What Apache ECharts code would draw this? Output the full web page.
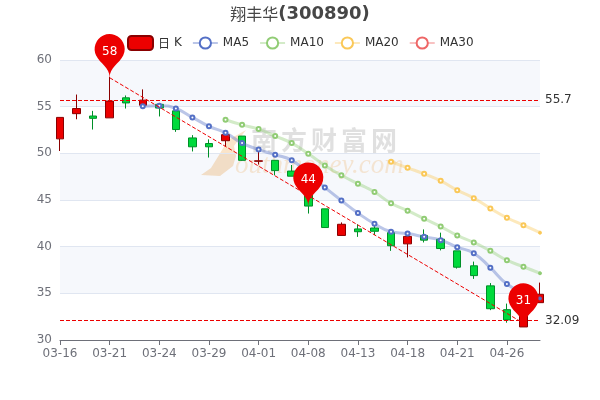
<!DOCTYPE html>
<html><head><meta charset="utf-8">
<script src="https://cdn.jsdelivr.net/npm/echarts@6/dist/echarts.min.js"></script>
<style>html,body{margin:0;padding:0;background:#fff}#c{width:600px;height:400px}</style>
</head><body><div id="c"></div>
<script>
const categories=['03-16','03-17','03-18','03-21','03-22','03-23','03-24','03-25','03-28','03-29','03-30','03-31','04-01','04-06','04-07','04-08','04-11','04-12','04-13','04-14','04-15','04-18','04-19','04-20','04-21','04-22','04-25','04-26','04-27','04-28'];
// open, close, low, high
const kline=[
[51.55,53.85,50.25,53.85],[54.25,54.8,53.65,56.3],[54.0,53.75,52.55,54.55],[53.8,55.6,53.8,58.2],[55.95,55.4,54.8,56.2],
[55.15,55.7,55.15,56.85],[55.25,54.85,53.95,55.4],[54.55,52.55,52.3,54.8],[51.65,50.7,50.2,51.95],[51.05,50.7,49.55,51.5],
[51.35,52.0,50.7,52.0],[51.85,49.25,49.2,51.85],[49.15,49.2,48.8,50.65],[49.25,48.15,47.65,49.25],[48.1,47.55,47.55,48.75],
[46.0,44.35,43.55,46.0],[44.05,42.05,42.0,44.05],[41.2,42.4,41.2,42.6],[41.9,41.6,41.05,42.4],[42.0,41.65,41.25,42.25],
[41.5,40.1,39.55,41.5],[40.3,41.1,38.85,41.1],[41.2,40.7,40.45,41.85],[40.8,39.8,39.6,41.5],[39.55,37.8,37.65,39.55],
[37.95,36.9,36.55,38.4],[35.8,33.35,33.2,36.1],[33.25,32.15,31.85,33.9],[31.4,32.65,31.4,32.65],[34.0,34.9,34.0,36.15]];
const ma5=[null,null,null,null,null,55.05,55.1,54.8,53.85,52.9,52.2,51.1,50.4,49.85,49.25,47.85,46.35,44.95,43.6,42.45,41.6,41.4,41.05,40.7,39.95,39.3,37.75,36.0,35.05,34.45];
const ma10=[null,null,null,null,null,null,null,null,null,null,53.6,53.05,52.6,51.85,51.1,49.95,48.7,47.65,46.75,45.85,44.65,43.85,43.0,42.15,41.2,40.45,39.55,38.55,37.85,37.15];
const ma20=[null,null,null,null,null,null,null,null,null,null,null,null,null,null,null,null,null,null,null,null,49.1,48.45,47.8,47.05,46.05,45.2,44.1,43.1,42.3,41.5];
const ma30=[];
const seriesNames=['日K','MA5','MA10','MA20','MA30'];
const yTicks={min:30,max:60,interval:5};
const peak={date:'03-21',value:58.1,label:'58'};
const mid={date:'04-08',value:44.35,label:'44'};
const low={date:'04-27',value:31.4,label:'31'};
const trendStart=['03-21',58.1];
const trendEnd=['04-27',31.8];
const levelHigh=55.7;
const levelLow=32.09;
const watermarkChars=['南','方','财','富','网'];

const chart=echarts.init(document.getElementById('c'));
const maSeries=(name,data,color)=>({name,type:'line',
  data:data.map((v,i)=>i===data.length-1?{value:v,symbolSize:3,itemStyle:{color,borderWidth:1}}:v),
  smooth:true,symbol:'circle',symbolSize:4,showSymbol:true,
  itemStyle:{color:'#fff',borderColor:color,borderWidth:2},lineStyle:{color,width:3,opacity:.4},
  emphasis:{disabled:true},z:3});
chart.setOption({
  animation:false,
  textStyle:{fontFamily:'DejaVu Sans'},
  title:{text:'{a|翔丰华}{b|(300890)}',left:'center',top:0,textStyle:{rich:{
    a:{fontSize:16,fontWeight:'normal',color:'#464646',fontFamily:'Noto Sans CJK SC'},
    b:{fontSize:18,fontWeight:'bold',color:'#464646',fontFamily:'DejaVu Sans'}}}},
  legend:{top:30,left:122,itemGap:10,data:seriesNames,
    formatter:n=>n==='日K'?'{a|日}{b|K}':n,
    textStyle:{color:'#333',fontSize:12,rich:{
      a:{fontSize:12,color:'#333',fontFamily:'Noto Sans CJK SC',padding:[0,4,0,0]},
      b:{fontSize:12,color:'#333',fontFamily:'DejaVu Sans'}}}},
  grid:{left:60,right:60,top:60,bottom:60},
  xAxis:{type:'category',data:categories,boundaryGap:false,
    axisLine:{lineStyle:{color:'#6E7079'}},axisTick:{show:true,interval:2,alignWithLabel:true,lineStyle:{color:'#6E7079'}},
    axisLabel:{interval:2,color:'#6E7079',fontSize:12},splitLine:{show:false}},
  yAxis:{type:'value',min:yTicks.min,max:yTicks.max,interval:yTicks.interval,
    axisLine:{show:false},axisTick:{show:false},axisLabel:{color:'#6E7079',fontSize:12},
    splitLine:{show:true,lineStyle:{color:'#E0E6F1'}},
    splitArea:{show:true,areaStyle:{color:['rgba(255,255,255,.2)','rgba(210,219,238,.2)']}}},
  graphic:[
    ...watermarkChars.map((ch,i)=>({type:'text',left:251+i*30,top:127,z:0,silent:true,style:{text:ch,fill:'rgba(185,185,185,.55)',font:'bold 26px "Noto Sans CJK SC"'}})),
    {type:'text',left:235,top:152,z:0,silent:true,style:{text:'outhmoney.com',fill:'rgba(250,210,160,.55)',font:'italic 27px "Liberation Serif"'}},
    {type:'polygon',z:0,silent:true,shape:{points:[[246,130],[228,140],[219,155],[211,168],[201,175],[220,176],[233,166],[236,156],[234,146]]},style:{fill:'rgba(248,215,175,.85)'}}
  ],
  series:[
    {name:'日K',type:'candlestick',data:kline,barWidth:8,clip:false,
     itemStyle:{color:'#ec0000',color0:'#00da3c',borderColor:'#8A0000',borderColor0:'#008F28'},
     markPoint:{symbol:'pin',symbolSize:50,itemStyle:{color:'#ec0000'},label:{color:'#fff',fontSize:12},
       data:[peak,mid,low].map(p=>({coord:[p.date,p.value],value:p.label}))},
     markLine:{symbol:'none',silent:true,animation:false,
       data:[
        {yAxis:levelHigh,lineStyle:{color:'#ec0000',type:'dashed',width:1},label:{position:'end',formatter:String(levelHigh),color:'#333',fontSize:12}},
        {yAxis:levelLow,lineStyle:{color:'#ec0000',type:'dashed',width:1},label:{position:'end',formatter:String(levelLow),color:'#333',fontSize:12}},
        [{coord:trendStart,lineStyle:{color:'#ec0000',type:'dashed',width:1},label:{show:false}},{coord:trendEnd}]
       ]}},
    maSeries('MA5',ma5,'#5470c6'),
    maSeries('MA10',ma10,'#91cc75'),
    maSeries('MA20',ma20,'#fac858'),
    maSeries('MA30',ma30,'#ee6666')
  ]
});
</script></body></html>
